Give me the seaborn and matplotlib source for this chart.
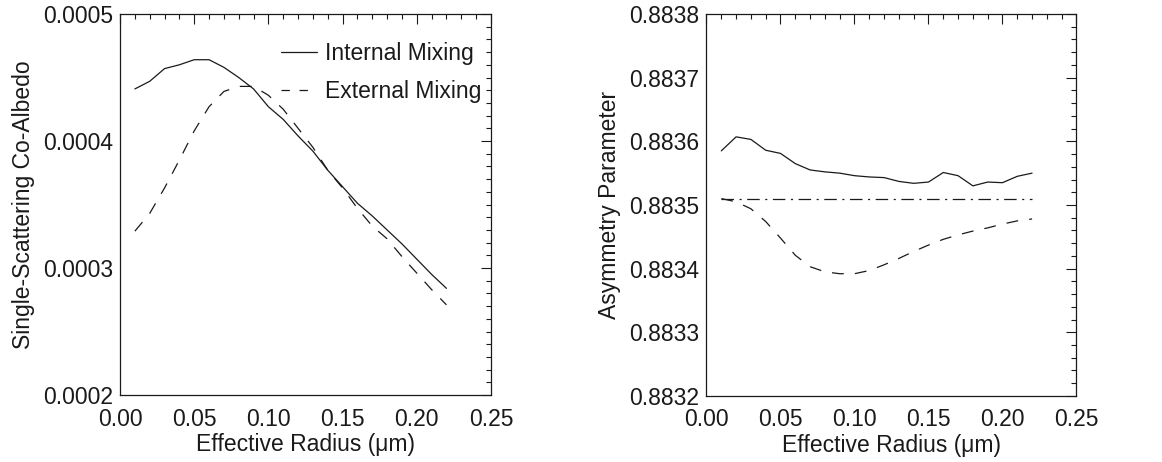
import numpy as np
import pandas as pd
import seaborn as sns
import matplotlib
matplotlib.use("Agg")
import matplotlib.pyplot as plt
from matplotlib.ticker import MultipleLocator, FormatStrFormatter

# ---------------- data ----------------
radius = [0.01, 0.02, 0.03, 0.04, 0.05, 0.06, 0.07, 0.08, 0.09, 0.10, 0.11,
          0.12, 0.13, 0.14, 0.15, 0.16, 0.17, 0.18, 0.19, 0.20, 0.21, 0.22]

coalb_internal = [0.000441, 0.000447, 0.000457, 0.000460, 0.000464, 0.000464,
                  0.000458, 0.000450, 0.000441, 0.000427, 0.000417, 0.000404,
                  0.000392, 0.000377, 0.000364, 0.000351, 0.000341, 0.000330,
                  0.000319, 0.000307, 0.000295, 0.000284]
coalb_external = [0.000329, 0.000343, 0.000363, 0.000385, 0.000408, 0.000427,
                  0.000439, 0.000443, 0.000443, 0.000436, 0.000425, 0.000410,
                  0.000395, 0.000377, 0.000363, 0.000347, 0.000333, 0.000323,
                  0.000309, 0.000296, 0.000283, 0.000271]

asym_internal = [0.883585, 0.883607, 0.883603, 0.883586, 0.883581, 0.883565,
                 0.883555, 0.883552, 0.883550, 0.883546, 0.883544, 0.883543,
                 0.883537, 0.883534, 0.883536, 0.883551, 0.883546, 0.883530,
                 0.883536, 0.883535, 0.883545, 0.883550]
asym_external = [0.883510, 0.883505, 0.883494, 0.883474, 0.883448, 0.883421,
                 0.883403, 0.883395, 0.883392, 0.883392, 0.883397, 0.883406,
                 0.883416, 0.883427, 0.883437, 0.883446, 0.883453, 0.883459,
                 0.883464, 0.883470, 0.883475, 0.883478]
asym_reference = [0.883510] * len(radius)

labels = ["Internal Mixing", "External Mixing"]
x_ticks = [0.00, 0.05, 0.10, 0.15, 0.20, 0.25]
left_yticks = [0.0002, 0.0003, 0.0004, 0.0005]
right_yticks = [0.8832, 0.8833, 0.8834, 0.8835, 0.8836, 0.8837, 0.8838]

# ---------------- style ----------------
sns.set_style("white")
plt.rcParams['font.family'] = ['Liberation Sans', 'DejaVu Sans']
plt.rcParams['lines.scale_dashes'] = False
FS = 16.5
INK = "#1a1a1a"

fig = plt.figure(figsize=(11.62, 4.62), dpi=100)
ax1 = fig.add_axes([0.1033, 0.145, 0.3192, 0.8247])
ax2 = fig.add_axes([0.6080, 0.143, 0.3184, 0.8267])

dash = (0, (8.5, 8))
dashdot = (0, (9, 4, 1.5, 4))

# left panel
d1 = pd.DataFrame({"r": radius, "v": coalb_internal})
d2 = pd.DataFrame({"r": radius, "v": coalb_external})
sns.lineplot(data=d1, x="r", y="v", ax=ax1, color=INK, lw=0.9, label=labels[0])
sns.lineplot(data=d2, x="r", y="v", ax=ax1, color=INK, lw=0.9, label=labels[1])
ax1.lines[1].set_linestyle(dash)
ax1.set_ylim(0.0002, 0.0005)
ax1.set_yticks(left_yticks)
ax1.yaxis.set_minor_locator(MultipleLocator(0.00001))
ax1.yaxis.set_major_formatter(FormatStrFormatter('%.4f'))
ax1.set_ylabel("Single-Scattering Co-Albedo", fontsize=FS, color=INK, labelpad=6)

leg = ax1.legend(loc="upper right", frameon=False, fontsize=FS, handlelength=1.6,
                 handletextpad=0.35, borderaxespad=0.0, borderpad=0.0,
                 labelspacing=0.65, bbox_to_anchor=(0.975, 0.927))
leg.legend_handles[1].set_linestyle((0, (6, 7)))
for t in leg.get_texts():
    t.set_color(INK)

# right panel
d3 = pd.DataFrame({"r": radius, "v": asym_internal})
d4 = pd.DataFrame({"r": radius, "v": asym_external})
d5 = pd.DataFrame({"r": radius, "v": asym_reference})
sns.lineplot(data=d3, x="r", y="v", ax=ax2, color=INK, lw=0.9)
sns.lineplot(data=d4, x="r", y="v", ax=ax2, color=INK, lw=0.9)
sns.lineplot(data=d5, x="r", y="v", ax=ax2, color=INK, lw=0.9)
ax2.lines[1].set_linestyle(dash)
ax2.lines[2].set_linestyle(dashdot)
ax2.set_ylim(0.8832, 0.8838)
ax2.set_yticks(right_yticks)
ax2.yaxis.set_minor_locator(MultipleLocator(0.00002))
ax2.yaxis.set_major_formatter(FormatStrFormatter('%.4f'))
ax2.set_ylabel("Asymmetry Parameter", fontsize=FS, color=INK, labelpad=6)

for ax in (ax1, ax2):
    ax.set_xlim(0.0, 0.25)
    ax.set_xticks(x_ticks)
    ax.xaxis.set_minor_locator(MultipleLocator(0.01))
    ax.xaxis.set_major_formatter(FormatStrFormatter('%.2f'))
    ax.set_xlabel("Effective Radius (μm)", fontsize=FS, color=INK, labelpad=2)
    ax.tick_params(which="both", direction="in", top=True, right=True,
                   colors=INK, labelsize=FS, width=0.8)
    ax.tick_params(which="major", length=7)
    ax.tick_params(which="minor", length=3.5)
    ax.tick_params(axis="x", which="major", pad=9)
    ax.tick_params(axis="y", which="major", pad=5)
    for s in ax.spines.values():
        s.set_color(INK)
        s.set_linewidth(0.9)
    ax.grid(False)

fig.savefig("out.png", dpi=100)
